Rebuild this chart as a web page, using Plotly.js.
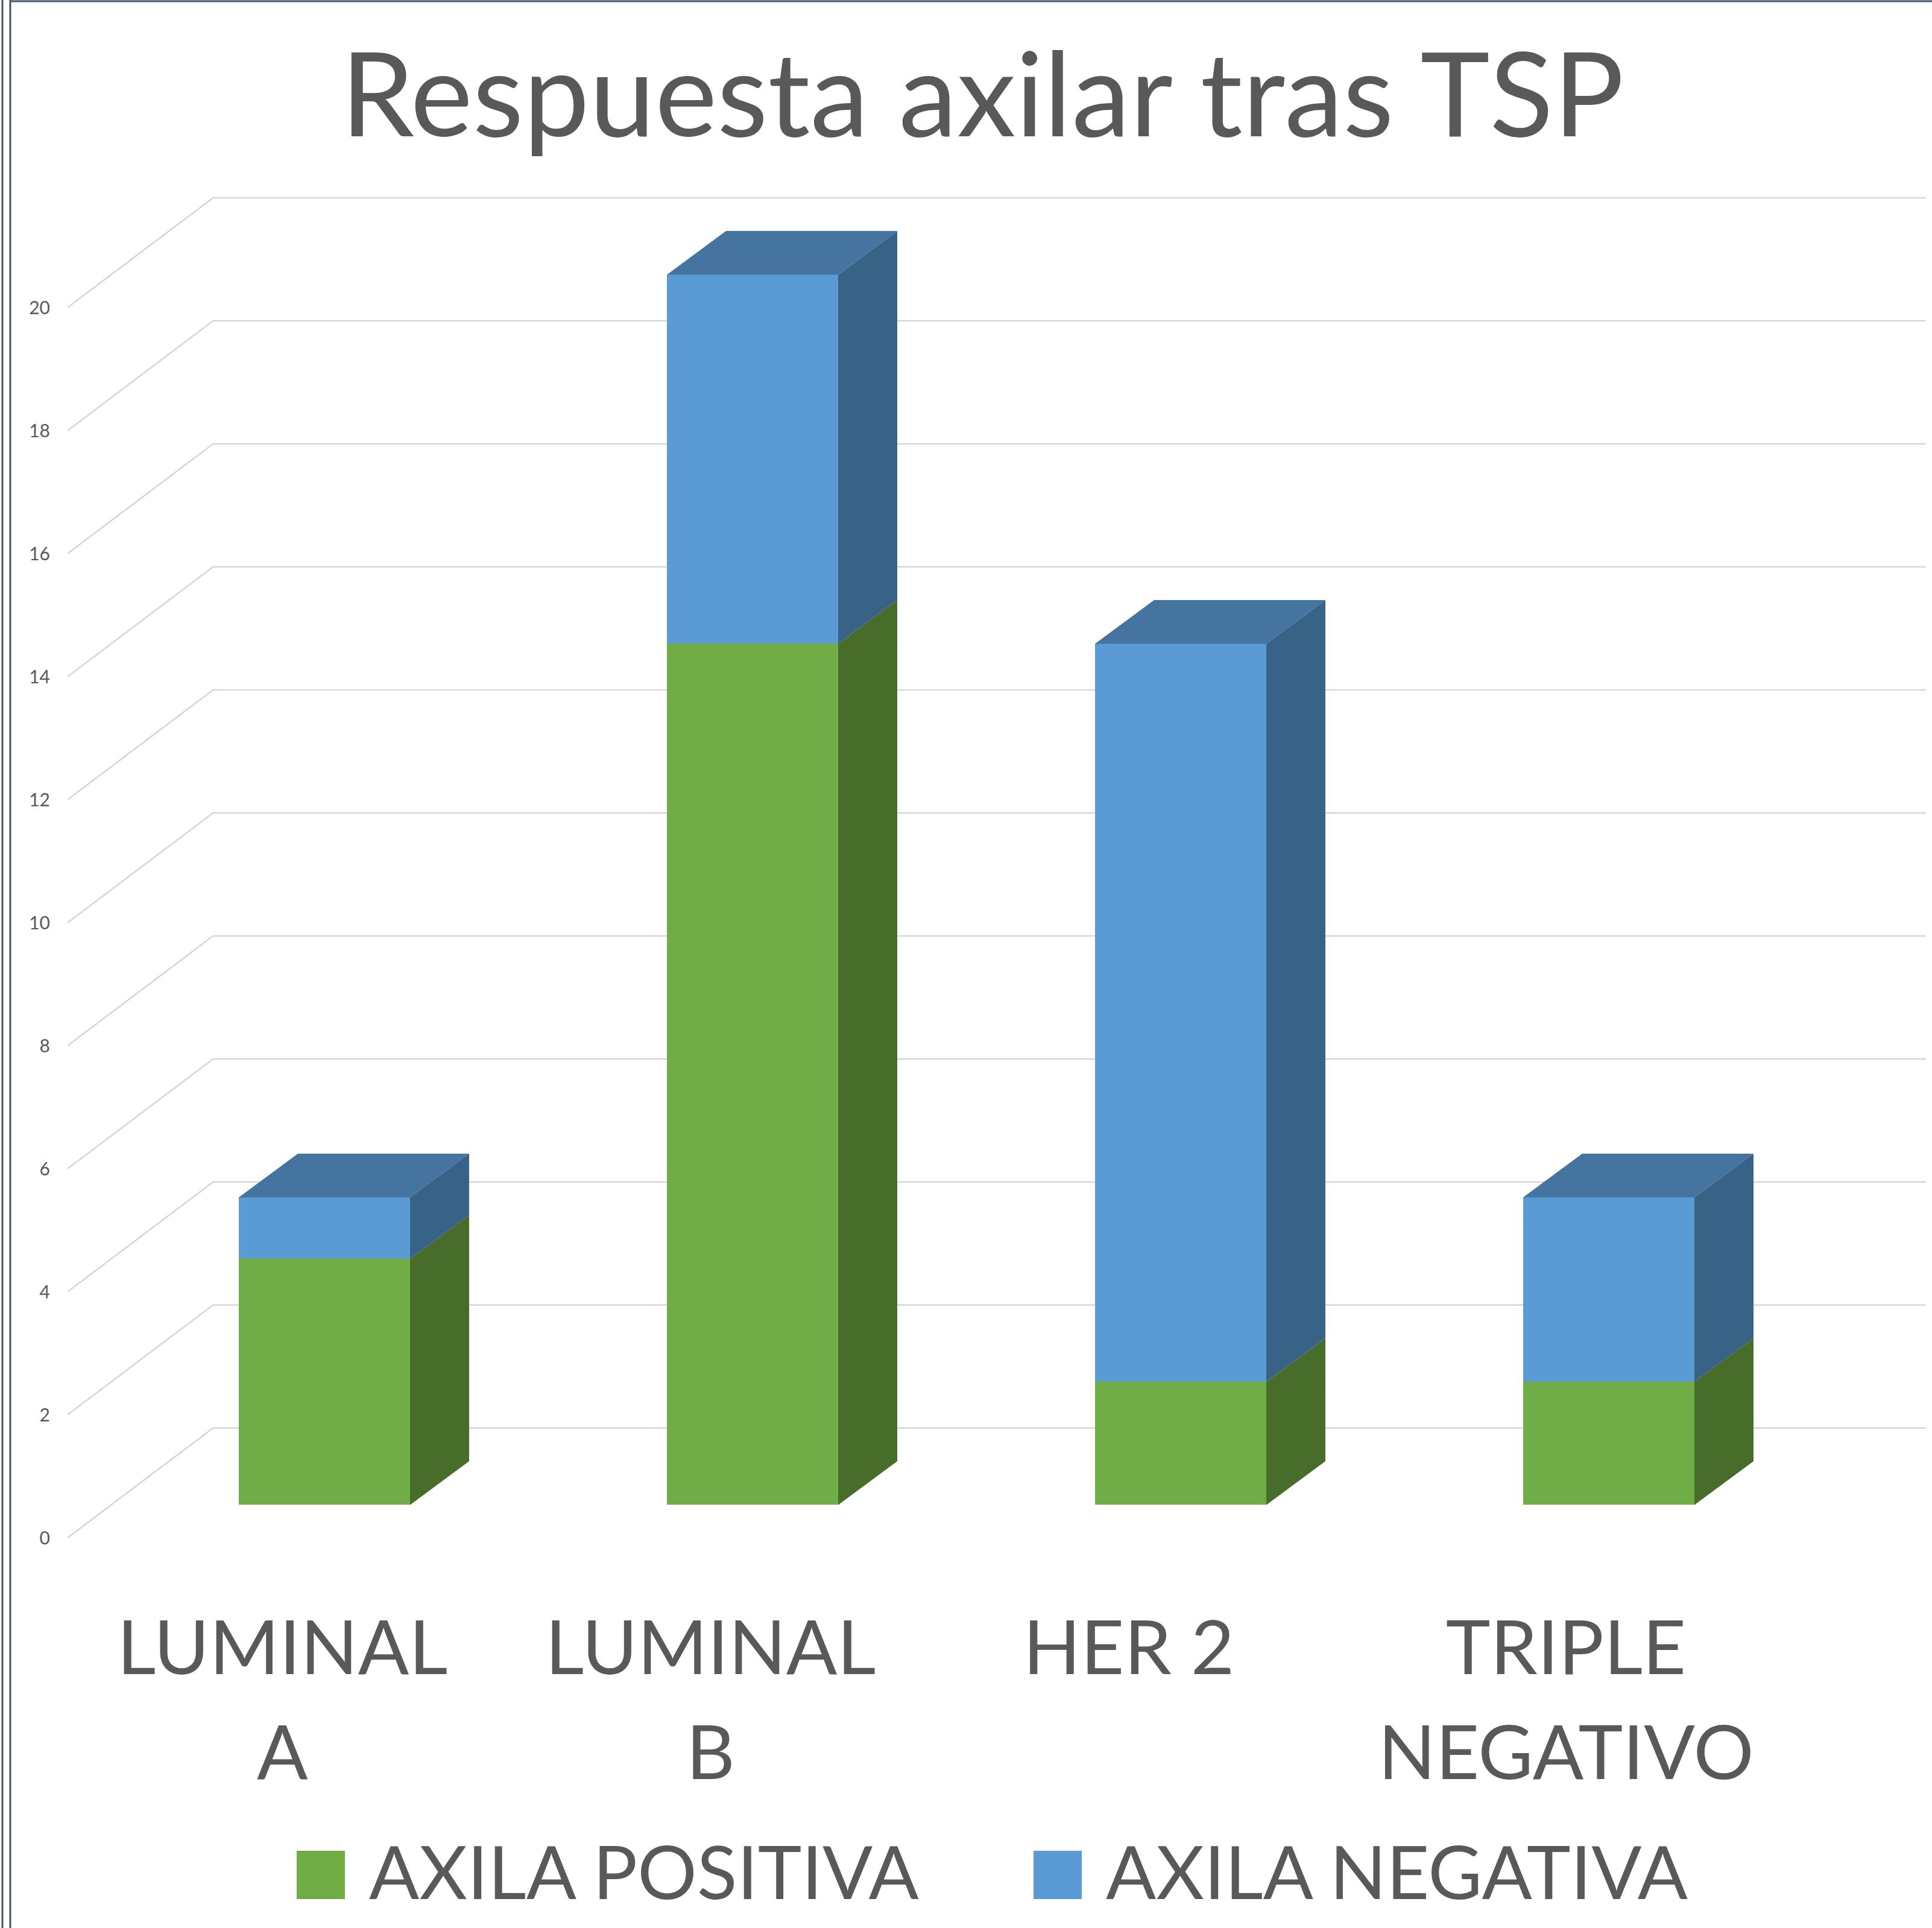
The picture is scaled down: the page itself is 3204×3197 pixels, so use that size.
<!DOCTYPE html>
<html>
<head>
<meta charset="utf-8">
<script src="https://cdn.plot.ly/plotly-3.0.1.min.js"></script>
<style>html,body{margin:0;padding:0;background:#fff}</style>
</head>
<body>
<div id="chart" style="width:3204px;height:3197px"></div>
<script>
const categories = ['LUMINAL<br>A', 'LUMINAL<br>B', 'HER 2', 'TRIPLE<br>NEGATIVO'];
const axilaPositiva = [4, 14, 2, 2];
const axilaNegativa = [1, 6, 12, 3];
const tickValues = [0, 2, 4, 6, 8, 10, 12, 14, 16, 18, 20];
const labelShift = [-0.098, -0.098, -0.121, -0.1];

const W = 3204, H = 3197;
const M = {l: 112, r: 10, t: 300, b: 597};
const unitX = 710, unitY = 102;
const x0px = 538, y0px = 2550;
const xRange = [(M.l - x0px) / unitX, (W - M.r - x0px) / unitX];
const yRange = [-(H - M.b - y0px) / unitY, (y0px - M.t) / unitY];
const barBase = 0.535, barW = 0.4, depthX = 0.138, depthY = 0.71;
const wallL = xRange[0], wallB = -0.26, wallD = 1.785, wallR = xRange[1];
const positions = categories.map((_, i) => i);

const gridX = [], gridY = [];
tickValues.forEach(v => {
  gridX.push(wallL, wallB, wallR, null);
  gridY.push(v, v + wallD, v + wallD, null);
});

function sideFaces(bottoms, tops) {
  const xs = [], ys = [];
  positions.forEach((p, i) => {
    const r = p + barW / 2;
    xs.push(r, r + depthX, r + depthX, r, r, null);
    ys.push(bottoms[i], bottoms[i] + depthY, tops[i] + depthY, tops[i], bottoms[i], null);
  });
  return {x: xs, y: ys};
}
const totals = axilaPositiva.map((v, i) => v + axilaNegativa[i]);
const sideGreen = sideFaces(positions.map(() => 0), axilaPositiva);
const sideBlue = sideFaces(axilaPositiva, totals);
const topX = [], topY = [];
positions.forEach((p, i) => {
  const a = p - barW / 2, b = p + barW / 2, t = totals[i];
  topX.push(a, b, b + depthX, a + depthX, a, null);
  topY.push(t, t, t + depthY, t + depthY, t, null);
});
function face(d, color) {
  return {type: 'scatter', mode: 'lines', x: d.x, y: d.y, xaxis: 'x2', yaxis: 'y2', fill: 'toself',
          fillcolor: color, line: {width: 0, color: color}, showlegend: false, hoverinfo: 'skip'};
}

const traces = [
  {type: 'scatter', mode: 'lines', x: gridX, y: gridY, line: {color: '#D6D6D6', width: 2.5},
   showlegend: false, hoverinfo: 'skip'},
  {type: 'bar', name: 'AXILA POSITIVA', x: positions, y: axilaPositiva, width: barW, xaxis: 'x2', yaxis: 'y2',
   marker: {color: '#70AD47', line: {width: 0}}},
  {type: 'bar', name: 'AXILA NEGATIVA', x: positions, y: axilaNegativa, width: barW, xaxis: 'x2', yaxis: 'y2',
   marker: {color: '#5B9BD5', line: {width: 0}}},
  face(sideGreen, '#486C2A'),
  face(sideBlue, '#386387'),
  face({x: topX, y: topY}, '#44749F')
];

const ink = '#595959';
const borderColor = '#44546A';
const layout = {
  width: W, height: H,
  paper_bgcolor: '#fff', plot_bgcolor: 'rgba(0,0,0,0)',
  margin: M,
  barmode: 'stack',
  showlegend: true,
  font: {family: 'Lato, sans-serif', color: ink},
  title: {text: 'Respuesta axilar tras TSP', font: {size: 195, color: ink, family: 'Lato, sans-serif'},
          x: 1629 / W, xanchor: 'center', xref: 'container', y: 1 - 158 / H, yanchor: 'middle', yref: 'container'},
  xaxis: {range: xRange, tickmode: 'array', tickvals: positions.map((p, i) => p + labelShift[i]), ticktext: categories,
          tickfont: {size: 125, color: ink}, showgrid: false, zeroline: false, showline: false,
          ticks: 'outside', ticklen: 25, tickcolor: 'rgba(0,0,0,0)', tickangle: 0, automargin: false},
  yaxis: {range: yRange, tickmode: 'array', tickvals: tickValues, ticktext: tickValues.map(String),
          tickfont: {size: 30, color: ink}, showgrid: false, zeroline: false, showline: false,
          ticks: 'outside', ticklen: 22, tickcolor: 'rgba(0,0,0,0)', automargin: false},
  xaxis2: {range: xRange, overlaying: 'x', visible: false},
  yaxis2: {range: [yRange[0] - barBase, yRange[1] - barBase], overlaying: 'y', visible: false},
  legend: {orientation: 'h', xref: 'container', yref: 'container', x: 452 / W, xanchor: 'left',
           y: 1 - 3101 / H, yanchor: 'middle', traceorder: 'normal', itemwidth: 150,
           entrywidth: 1057, entrywidthmode: 'pixels', font: {size: 123, color: ink}, bgcolor: 'rgba(0,0,0,0)'},
  shapes: [
    {type: 'line', xref: 'paper', yref: 'paper', xsizemode: 'pixel', ysizemode: 'scaled', xanchor: 0,
     x0: -108, x1: -108, y0: -0.3, y1: 1.2, line: {color: borderColor, width: 3}},
    {type: 'line', xref: 'paper', yref: 'paper', xsizemode: 'pixel', ysizemode: 'scaled', xanchor: 0,
     x0: -95, x1: -95, y0: -0.3, y1: 1.2, line: {color: borderColor, width: 3}},
    {type: 'line', xref: 'paper', yref: 'paper', xsizemode: 'pixel', xanchor: 0, ysizemode: 'pixel', yanchor: 1,
     x0: -95, x1: 3100, y0: 298, y1: 298, line: {color: borderColor, width: 3}}
  ]
};

Plotly.newPlot('chart', traces, layout, {displayModeBar: false, responsive: false}).then(() => {
  document.querySelectorAll('.legend .legendsymbols path').forEach(p => {
    p.setAttribute('d', 'M40,48H-40V-32H40Z');
  });
  document.querySelectorAll('.xtick text tspan.line').forEach(t => {
    if (Number(t.getAttribute('dy') ? parseFloat(t.getAttribute('dy')) : 0) > 0) t.setAttribute('dy', '174px');
  });
});
</script>
</body>
</html>
